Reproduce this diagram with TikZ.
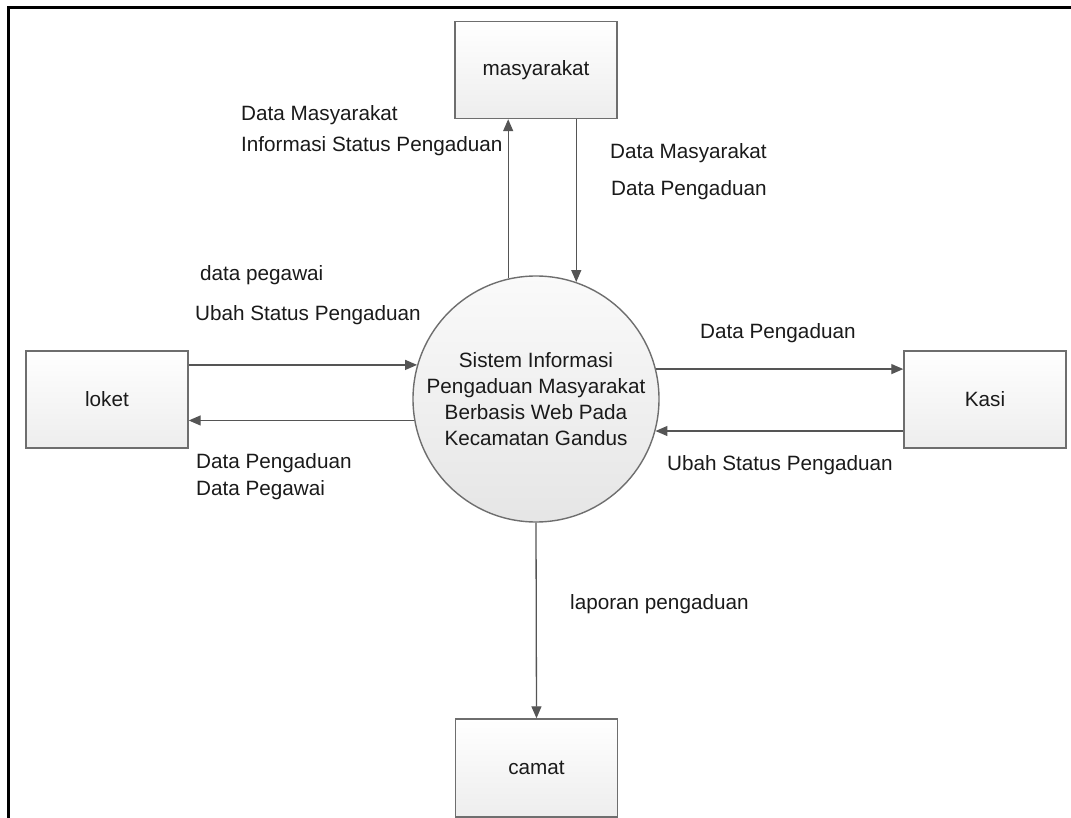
\documentclass[tikz,border=0pt]{standalone}
\usepackage{fontspec}
\setmainfont{Liberation Sans}
\usetikzlibrary{arrows.meta}
\definecolor{edgegray}{HTML}{6E6E6E}
\definecolor{flowgray}{HTML}{555555}
\definecolor{inkc}{HTML}{1A1A1A}
\begin{document}
\begin{tikzpicture}[x=1pt,y=-1pt,
  every node/.style={font=\fontsize{20.7}{26}\selectfont, text=inkc},
  entity/.style={draw=edgegray, line width=1.4pt, top color=white, bottom color=black!7,
    minimum width=162pt, minimum height=97pt, inner sep=0pt},
  process/.style={circle, draw=edgegray, line width=1.4pt, top color=black!2, bottom color=black!10,
    minimum size=246pt, inner sep=0pt, align=center},
  flow/.style={draw=flowgray, line width=1.3pt, -{Triangle[length=12pt,width=10pt]}},
  lbl/.style={anchor=west, inner sep=0pt}]
\useasboundingbox (0,0) rectangle (1071,818);
% outer frame (open on the right and bottom)
\draw[line width=3pt] (8,818) -- (8,8) -- (1071,8);

% external entities and central process
\node[entity] (mas) at (536,70) {masyarakat};
\node[entity] (loket) at (107,399.5) {loket};
\node[entity] (kasi) at (985,399.5) {Kasi};
\node[entity, minimum height=98pt] (camat) at (536.5,768) {camat};
\node[process] (sys) at (536,399) {Sistem Informasi\\Pengaduan Masyarakat\\Berbasis Web Pada\\Kecamatan Gandus};

% data flows
\draw[flow] (sys.103.6) -- (sys.103.6 |- mas.south);
\draw[flow] (mas.south -| sys.71.5) -- (sys.71.5);
\draw[flow] (loket.east |- sys.164.9) -- (sys.164.9);
\draw[flow] (sys.190.3) -- (loket.east |- sys.190.3);
\draw[flow] (sys.14.1) -- (kasi.west |- sys.14.1);
\draw[flow] (kasi.west |- sys.-15.6) -- (sys.-15.6);
\draw[flow] (sys.south) -- (camat.north);

% flow labels
\node[lbl] (l1) at (241,115) {Data Masyarakat};
\node[lbl] (l2) at (241,146) {Informasi Status Pengaduan};
\node[lbl] (l3) at (610,153) {Data Masyarakat};
\node[lbl] (l4) at (611,190) {Data Pengaduan};
\node[lbl] (l5) at (200,275) {data pegawai};
\node[lbl] (l6) at (195,315) {Ubah Status Pengaduan};
\node[lbl] (l7) at (700,333) {Data Pengaduan};
\node[lbl] (l8) at (196,463) {Data Pengaduan};
\node[lbl] (l9) at (196,490) {Data Pegawai};
\node[lbl] (l10) at (667,465) {Ubah Status Pengaduan};
\node[lbl] (l11) at (570,604) {laporan pengaduan};
\end{tikzpicture}
\end{document}
